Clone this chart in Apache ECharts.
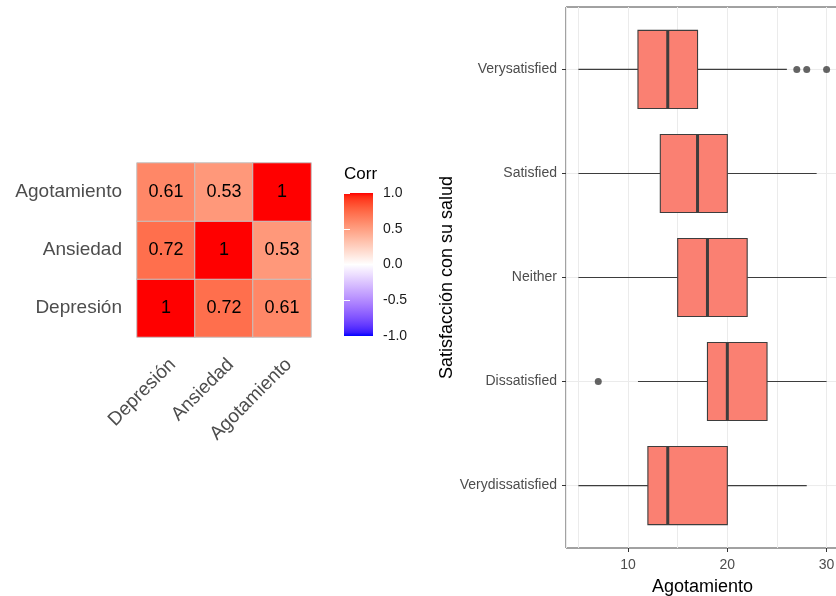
<!DOCTYPE html>
<html>
<head>
<meta charset="utf-8">
<title>Correlaciones y Agotamiento</title>
<script src="https://cdn.jsdelivr.net/npm/echarts@6/dist/echarts.min.js"></script>
<style>
  html, body { margin: 0; padding: 0; background: #ffffff; }
  #chart { width: 836px; height: 596px; }
</style>
</head>
<body>
<div id="chart"></div>
<script>
// ---- Correlation matrix ----
const corrVars = ['Depresión', 'Ansiedad', 'Agotamiento'];
const corrValues = [
  [1.00, 0.72, 0.61],
  [0.72, 1.00, 0.53],
  [0.61, 0.53, 1.00]
];
const corrLimits = [-1, 1];

// ---- Agotamiento by health satisfaction (box summaries) ----
const satLevels = ['Verydissatisfied', 'Dissatisfied', 'Neither', 'Satisfied', 'Verysatisfied'];
const whiskerLow = [5, 11, 5, 5, 5];
const quartile1 = [12, 18, 15, 13.25, 11];
const medianVal = [14, 20, 18, 17, 14];
const quartile3 = [20, 24, 22, 20, 17];
const whiskerHigh = [28, 30, 30, 29, 26];
const outlierLevel = ['Verysatisfied', 'Verysatisfied', 'Verysatisfied', 'Dissatisfied'];
const outlierValue = [27, 28, 30, 7];
const agotTicks = [10, 20, 30];
const agotRange = [3.75, 31.25];

// ---- Blue-white-red ramp interpolated in CIELAB ----
function hexToRgb(h) {
  const n = parseInt(h.slice(1), 16);
  return [(n >> 16) & 255, (n >> 8) & 255, n & 255];
}
function rgbToLab(rgb) {
  const lin = rgb.map(c => { c /= 255; return c <= 0.04045 ? c / 12.92 : Math.pow((c + 0.055) / 1.055, 2.4); });
  const X = (0.4124 * lin[0] + 0.3576 * lin[1] + 0.1805 * lin[2]) / 0.95047;
  const Y = (0.2126 * lin[0] + 0.7152 * lin[1] + 0.0722 * lin[2]);
  const Z = (0.0193 * lin[0] + 0.1192 * lin[1] + 0.9505 * lin[2]) / 1.08883;
  const f = t => t > 0.008856 ? Math.cbrt(t) : 7.787 * t + 16 / 116;
  const fx = f(X), fy = f(Y), fz = f(Z);
  return [116 * fy - 16, 500 * (fx - fy), 200 * (fy - fz)];
}
function labToHex(lab) {
  const fy = (lab[0] + 16) / 116, fx = fy + lab[1] / 500, fz = fy - lab[2] / 200;
  const inv = t => t * t * t > 0.008856 ? t * t * t : (t - 16 / 116) / 7.787;
  const X = inv(fx) * 0.95047, Y = inv(fy), Z = inv(fz) * 1.08883;
  const r = 3.2406 * X - 1.5372 * Y - 0.4986 * Z;
  const g = -0.9689 * X + 1.8758 * Y + 0.0415 * Z;
  const b = 0.0557 * X - 0.2040 * Y + 1.0570 * Z;
  const enc = c => {
    c = c <= 0.0031308 ? 12.92 * c : 1.055 * Math.pow(c, 1 / 2.4) - 0.055;
    c = Math.round(Math.min(1, Math.max(0, c)) * 255);
    return c.toString(16).padStart(2, '0');
  };
  return '#' + enc(r) + enc(g) + enc(b);
}
function mixLab(h1, h2, t) {
  const a = rgbToLab(hexToRgb(h1)), b = rgbToLab(hexToRgb(h2));
  return labToHex([0, 1, 2].map(i => a[i] + (b[i] - a[i]) * t));
}
const lowCol = '#0000FF', midCol = '#FFFFFF', highCol = '#FF0000';
const rampSteps = 40;
const rampColors = [];
for (let i = 0; i <= rampSteps; i++) {
  const v = -1 + 2 * i / rampSteps;
  rampColors.push(v < 0 ? mixLab(midCol, lowCol, -v) : mixLab(midCol, highCol, v));
}

// ---- Series data built from the arrays above ----
const heatData = [];
corrVars.forEach((rowName, yi) => {
  corrVars.forEach((colName, xi) => heatData.push([xi, yi, corrValues[yi][xi]]));
});
const boxData = satLevels.map((s, i) =>
  [i, whiskerLow[i], quartile1[i], medianVal[i], quartile3[i], whiskerHigh[i]]);
const outlierData = outlierValue.map((v, i) => [v, satLevels.indexOf(outlierLevel[i])]);

const FONT = 'Liberation Sans, Arial, sans-serif';
const chart = echarts.init(document.getElementById('chart'), null, { renderer: 'canvas' });

const option = {
  animation: false,
  backgroundColor: '#ffffff',
  textStyle: { fontFamily: FONT },
  title: {
    text: 'Corr', left: 344, top: 166, padding: 0,
    textStyle: { fontSize: 17, fontWeight: 'normal', color: '#000000', fontFamily: FONT }
  },
  grid: [
    { left: 137, top: 163, width: 174, height: 174, containLabel: false, outerBoundsMode: 'none' },
    { left: 344, top: 193, width: 29, height: 143, containLabel: false, outerBoundsMode: 'none' },
    { left: 566, top: 7, width: 273, height: 541, containLabel: false, outerBoundsMode: 'none',
      show: true, borderColor: '#444444', borderWidth: 1, backgroundColor: 'transparent' }
  ],
  xAxis: [
    { // heatmap columns
      type: 'category', gridIndex: 0, data: corrVars,
      axisLine: { show: false }, axisTick: { show: false }, splitLine: { show: false },
      axisLabel: { rotate: 45, fontSize: 19, color: '#4d4d4d', margin: 18,
                   verticalAlign: 'top', align: 'right', interval: 0 }
    },
    { // colour bar
      type: 'value', gridIndex: 1, min: 0, max: 1, show: false
    },
    { // box panel grid lines
      type: 'value', gridIndex: 2, position: 'top', min: agotRange[0], max: agotRange[1],
      splitNumber: 5,
      axisLine: { show: false }, axisTick: { show: false }, axisLabel: { show: false },
      splitLine: { show: true, lineStyle: { color: '#ebebeb', width: 1 } }
    },
    { // box panel labels
      type: 'value', gridIndex: 2, position: 'bottom', min: agotRange[0], max: agotRange[1],
      axisLine: { show: false },
      axisTick: { show: true, customValues: agotTicks, length: 4, lineStyle: { color: '#333333' } },
      axisLabel: { customValues: agotTicks, fontSize: 14, color: '#4d4d4d', margin: 10 },
      splitLine: { show: false },
      name: 'Agotamiento', nameLocation: 'middle', nameGap: 30,
      nameTextStyle: { fontSize: 18, color: '#000000', fontFamily: FONT }
    }
  ],
  yAxis: [
    { // heatmap rows
      type: 'category', gridIndex: 0, data: corrVars,
      axisLine: { show: false }, axisTick: { show: false }, splitLine: { show: false },
      axisLabel: { fontSize: 19, color: '#4d4d4d', margin: 15 }
    },
    { // colour bar labels and right ticks
      type: 'value', gridIndex: 1, position: 'right', min: corrLimits[0], max: corrLimits[1],
      interval: 0.5, z: 10,
      axisLine: { show: false },
      axisTick: { show: true, inside: true, length: 6, lineStyle: { color: '#ffffff', width: 1 } },
      axisLabel: { fontSize: 14, color: '#1a1a1a', margin: 10, formatter: v => v.toFixed(1) },
      splitLine: { show: false }
    },
    { // colour bar left ticks
      type: 'value', gridIndex: 1, position: 'left', min: corrLimits[0], max: corrLimits[1],
      interval: 0.5, z: 10,
      axisLine: { show: false },
      axisTick: { show: true, inside: true, length: 6, lineStyle: { color: '#ffffff', width: 1 } },
      axisLabel: { show: false }, splitLine: { show: false }
    },
    { // satisfaction levels
      type: 'value', gridIndex: 2, min: -0.6, max: satLevels.length - 0.4,
      axisLine: { show: false },
      axisTick: { show: true, customValues: [0, 1, 2, 3, 4], length: 4, lineStyle: { color: '#333333' } },
      axisLabel: { customValues: [0, 1, 2, 3, 4], fontSize: 14, color: '#4d4d4d', margin: 9,
                   formatter: v => satLevels[Math.round(v)] },
      splitLine: { show: false },
      name: 'Satisfacción con su salud', nameLocation: 'middle', nameGap: 110, nameRotate: 90,
      nameTextStyle: { fontSize: 18, color: '#000000', fontFamily: FONT }
    }
  ],
  visualMap: {
    type: 'continuous', show: false, seriesIndex: 0, dimension: 2,
    min: corrLimits[0], max: corrLimits[1], inRange: { color: rampColors }
  },
  series: [
    {
      type: 'heatmap', xAxisIndex: 0, yAxisIndex: 0, data: heatData,
      itemStyle: { borderColor: '#c4c4c4', borderWidth: 1 },
      label: { show: true, fontSize: 18, color: '#000000', fontFamily: FONT,
               formatter: p => String(p.value[2]) },
      emphasis: { disabled: true }
    },
    {
      type: 'custom', xAxisIndex: 1, yAxisIndex: 1, silent: true,
      data: [[0, corrLimits[0], 1, corrLimits[1]]],
      encode: { x: [0, 2], y: [1, 3] },
      renderItem: (params, api) => {
        const p0 = api.coord([api.value(0), api.value(3)]);
        const p1 = api.coord([api.value(2), api.value(1)]);
        const stops = rampColors.map((c, i) => ({ offset: i / (rampColors.length - 1), color: c }));
        return {
          type: 'rect',
          shape: { x: p0[0], y: p0[1], width: p1[0] - p0[0], height: p1[1] - p0[1] },
          style: { fill: { type: 'linear', x: 0, y: 1, x2: 0, y2: 0, colorStops: stops } }
        };
      }
    },
    {
      type: 'custom', xAxisIndex: 3, yAxisIndex: 3, silent: true,
      data: boxData,
      encode: { x: [1, 2, 3, 4, 5], y: 0 },
      renderItem: (params, api) => {
        const y = api.value(0);
        const cs = params.coordSys;
        const lo = api.coord([api.value(1), y]);
        const q1 = api.coord([api.value(2), y]);
        const md = api.coord([api.value(3), y]);
        const q3 = api.coord([api.value(4), y]);
        const hi = api.coord([api.value(5), y]);
        const half = api.size([0, 0.75])[1] / 2;
        const edge = '#3d3d3d';
        return {
          type: 'group',
          children: [
            { type: 'line', shape: { x1: cs.x, y1: lo[1], x2: cs.x + cs.width, y2: lo[1] },
              style: { stroke: '#ebebeb', lineWidth: 1 } },
            { type: 'line', shape: { x1: lo[0], y1: lo[1], x2: q1[0], y2: q1[1] },
              style: { stroke: edge, lineWidth: 1.1 } },
            { type: 'line', shape: { x1: q3[0], y1: q3[1], x2: hi[0], y2: hi[1] },
              style: { stroke: edge, lineWidth: 1.1 } },
            { type: 'rect', shape: { x: q1[0], y: q1[1] - half, width: q3[0] - q1[0], height: 2 * half },
              style: { fill: '#FA8072', stroke: edge, lineWidth: 1.1 } },
            { type: 'line', shape: { x1: md[0], y1: md[1] - half, x2: md[0], y2: md[1] + half },
              style: { stroke: edge, lineWidth: 3 } }
          ]
        };
      }
    },
    {
      type: 'scatter', xAxisIndex: 3, yAxisIndex: 3, data: outlierData,
      symbol: 'circle', symbolSize: 7, itemStyle: { color: '#3d3d3d' },
      emphasis: { disabled: true }, z: 5
    }
  ]
};
chart.setOption(option);
</script>
</body>
</html>
